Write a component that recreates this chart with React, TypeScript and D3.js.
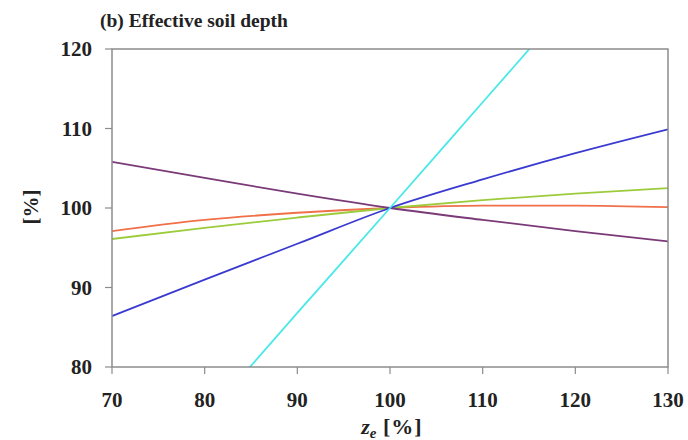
import React from 'react';
import * as d3 from 'd3';

// x values (z_e, % of reference) and model response (% of reference)
const zValues = [70, 80, 90, 100, 110, 120, 130];
const purpleSeries = [105.8, 103.8, 101.8, 100, 98.5, 97.1, 95.8];
const redSeries = [97.1, 98.5, 99.4, 100, 100.3, 100.3, 100.1];
const greenSeries = [96.1, 97.5, 98.8, 100, 101.0, 101.8, 102.5];
const blueSeries = [86.4, 91.0, 95.5, 100, 103.6, 106.9, 109.9];
const cyanSeries = [60.2, 73.5, 86.8, 100, 113.3, 126.6, 140.0];

const xTicks = [70, 80, 90, 100, 110, 120, 130];
const yTicks = [80, 90, 100, 110, 120];

const series = [
  { name: 'red', values: redSeries, color: '#f0704a' },
  { name: 'green', values: greenSeries, color: '#9ccc3c' },
  { name: 'purple', values: purpleSeries, color: '#7a3a78' },
  { name: 'blue', values: blueSeries, color: '#3a3ad0' },
  { name: 'cyan', values: cyanSeries, color: '#4ae8e8' },
];

const App = () => {
  const width = 688;
  const height = 440;
  const margin = { top: 49, right: 20, bottom: 73, left: 112 };
  const innerW = width - margin.left - margin.right;
  const innerH = height - margin.top - margin.bottom;

  const x = d3.scaleLinear().domain([70, 130]).range([0, innerW]);
  const y = d3.scaleLinear().domain([80, 120]).range([innerH, 0]);

  const line = d3
    .line<number>()
    .x((_, i) => x(zValues[i]))
    .y(d => y(d))
    .curve(d3.curveMonotoneX);

  const font = '"Liberation Serif", "Times New Roman", serif';
  const axisColor = '#8c8c8c';

  return (
    <svg
      width={width}
      height={height}
      style={{ position: 'absolute', left: 0, top: 0, background: '#fff' }}
    >
      <defs>
        <clipPath id="plot-clip">
          <rect x={0} y={0} width={innerW} height={innerH} />
        </clipPath>
      </defs>

      <text x={100} y={27} fontFamily={font} fontWeight="bold" fontSize={19.5} fill="#222">
        (b) Effective soil depth
      </text>

      <g transform={`translate(${margin.left},${margin.top})`}>
        {/* lines */}
        <g clipPath="url(#plot-clip)">
          {series.map(s => (
            <path
              key={s.name}
              d={line(s.values) || ''}
              fill="none"
              stroke={s.color}
              strokeWidth={1.8}
            />
          ))}
        </g>

        {/* frame */}
        <rect
          x={0}
          y={0}
          width={innerW}
          height={innerH}
          fill="none"
          stroke={axisColor}
          strokeWidth={1.5}
        />

        {/* y axis */}
        {yTicks.map(t => (
          <g key={t} transform={`translate(0,${y(t)})`}>
            <line x1={-7} x2={0} stroke={axisColor} strokeWidth={1.2} />
            <text
              x={-20}
              dy="0.35em"
              textAnchor="end"
              fontFamily={font}
              fontWeight="bold"
              fontSize={21}
              fill="#222"
            >
              {t}
            </text>
          </g>
        ))}

        {/* x axis */}
        {xTicks.map(t => (
          <g key={t} transform={`translate(${x(t)},${innerH})`}>
            <line y1={0} y2={7} stroke={axisColor} strokeWidth={1.2} />
            <text
              y={40}
              textAnchor="middle"
              fontFamily={font}
              fontWeight="bold"
              fontSize={21}
              fill="#222"
            >
              {t}
            </text>
          </g>
        ))}
      </g>

      <text
        transform="translate(38,207) rotate(-90)"
        textAnchor="middle"
        fontFamily={font}
        fontWeight="bold"
        fontSize={21}
        fill="#222"
      >
        [%]
      </text>

      <text x={392} y={434} textAnchor="middle" fontFamily={font} fontWeight="bold" fontSize={22} fill="#222">
        <tspan fontStyle="italic">z</tspan>
        <tspan fontStyle="italic" fontSize={15} dy={4}>e</tspan>
        <tspan dy={-4} letterSpacing={1}> [%]</tspan>
      </text>
    </svg>
  );
};

export default App;
